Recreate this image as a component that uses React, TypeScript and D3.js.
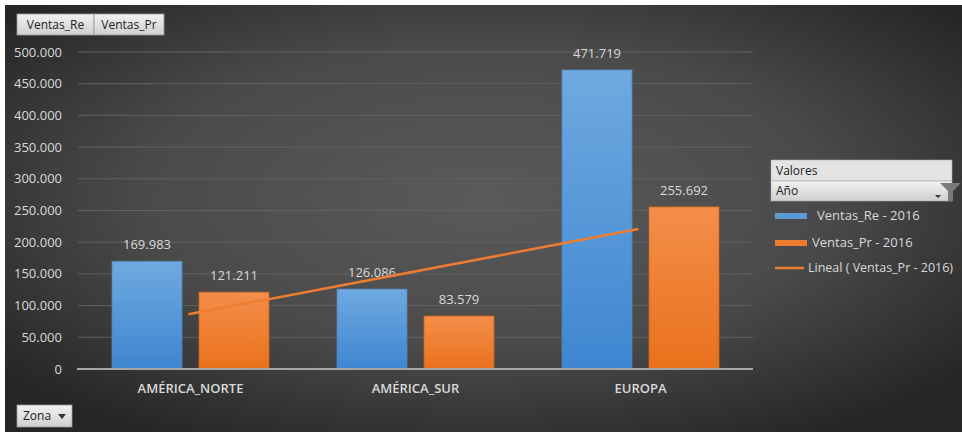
import React from "react";
import * as d3 from "d3";

const categories = ["AMÉRICA_NORTE", "AMÉRICA_SUR", "EUROPA"];
const ventasRe = [169983, 126086, 471719];
const ventasPr = [121211, 83579, 255692];
const yTicks = [0, 50000, 100000, 150000, 200000, 250000, 300000, 350000, 400000, 450000, 500000];
const legendLabels = ["Ventas_Re - 2016", "Ventas_Pr - 2016", "Lineal ( Ventas_Pr - 2016)"];

const W = 962, H = 432;
const FONT = "'Open Sans', 'Noto Sans', sans-serif";
const TXT = "#d9d9d9";

const fmt = (v: number) => {
  const s = d3.format(",")(v);
  return s.replace(/,/g, ".");
};

export default function App() {
  const x = d3.scaleBand().domain(categories).range([78, 753]).paddingInner(0).paddingOuter(0);
  const y = d3.scaleLinear().domain([0, 500000]).range([369, 52]);
  const bw = x.bandwidth();
  const barW = 70;
  const gap = 17;
  const sub = d3.scaleBand().domain(["re", "pr"]).range([0, barW * 2 + gap]);

  // linear trend line (least squares on x = 1..n)
  const n = ventasPr.length;
  const xs = d3.range(1, n + 1);
  const mx = d3.mean(xs)!;
  const my = d3.mean(ventasPr)!;
  const slope = d3.sum(xs.map((xi, i) => (xi - mx) * (ventasPr[i] - my))) / d3.sum(xs.map((xi) => (xi - mx) ** 2));
  const icpt = my - slope * mx;
  const trendPts: [number, number][] = xs.map((xi, i) => [x(categories[i])! + bw / 2 - 2, y(icpt + slope * xi)]);
  const line = d3.line();

  const off = (bw - (barW * 2 + gap)) / 2;

  return (
    <div style={{ position: "absolute", left: 0, top: 0 }}>
      <svg width={W} height={H} style={{ display: "block", fontFamily: FONT }}>
        <defs>
          <radialGradient id="bg" cx="50%" cy="45%" r="65%">
            <stop offset="0%" stopColor="#5a5a5a" />
            <stop offset="55%" stopColor="#4a4a4a" />
            <stop offset="100%" stopColor="#262626" />
          </radialGradient>
          <linearGradient id="gBlue" x1="0" y1="0" x2="0" y2="1">
            <stop offset="0%" stopColor="#6fa9e0" />
            <stop offset="100%" stopColor="#3f86d1" />
          </linearGradient>
          <linearGradient id="gOrange" x1="0" y1="0" x2="0" y2="1">
            <stop offset="0%" stopColor="#f48e4a" />
            <stop offset="100%" stopColor="#e9711c" />
          </linearGradient>
          <linearGradient id="gBtn" x1="0" y1="0" x2="0" y2="1">
            <stop offset="0%" stopColor="#f2f2f2" />
            <stop offset="100%" stopColor="#cfcfcf" />
          </linearGradient>
        </defs>
        <rect x={0} y={0} width={W} height={H} fill="#ffffff" />
        <rect x={5} y={5} width={W - 5} height={H - 5} fill="url(#bg)" />

        {/* gridlines */}
        {yTicks.slice(1).map((t) => (
          <line key={t} x1={78} x2={753} y1={y(t)} y2={y(t)} stroke="#626262" strokeWidth={1} />
        ))}
        {/* y tick labels */}
        {yTicks.map((t) => (
          <text key={t} x={62} y={y(t)} dy="0.35em" textAnchor="end" fontSize={13} fill={TXT}>
            {fmt(t)}
          </text>
        ))}

        {/* bars */}
        {categories.map((c, i) => {
          const x0 = x(c)! + off;
          const bx1 = x0 + sub("re")!;
          const bx2 = x0 + sub("pr")! + (sub.bandwidth() - barW);
          return (
            <g key={c}>
              <rect x={bx1} y={y(ventasRe[i])} width={barW} height={y(0) - y(ventasRe[i])} fill="url(#gBlue)" stroke="#4f84b8" strokeWidth={0.8} />
              <rect x={bx2} y={y(ventasPr[i])} width={barW} height={y(0) - y(ventasPr[i])} fill="url(#gOrange)" stroke="#c8651f" strokeWidth={0.8} />
              <text x={bx1 + barW / 2} y={y(ventasRe[i]) - 12} textAnchor="middle" fontSize={13} fill={TXT}>
                {fmt(ventasRe[i])}
              </text>
              <text x={bx2 + barW / 2} y={y(ventasPr[i]) - 12} textAnchor="middle" fontSize={13} fill={TXT}>
                {fmt(ventasPr[i])}
              </text>
              <text x={x(c)! + bw / 2} y={393} textAnchor="middle" fontSize={13} fontWeight={600} fill={TXT}>
                {c}
              </text>
            </g>
          );
        })}

        {/* axis line */}
        <line x1={77} x2={753} y1={y(0)} y2={y(0)} stroke="#a6a6a6" strokeWidth={2} />

        {/* trend line */}
        <path d={line([trendPts[0], trendPts[n - 1]])!} stroke="#ee7d31" strokeWidth={2.5} fill="none" />

        {/* top field buttons */}
        <rect x={17} y={14} width={77} height={21} fill="url(#gBtn)" stroke="#9a9a9a" strokeWidth={0.8} />
        <text x={55.5} y={28.5} textAnchor="middle" fontSize={12} fill="#222">Ventas_Re</text>
        <rect x={94} y={14} width={70} height={21} fill="url(#gBtn)" stroke="#9a9a9a" strokeWidth={0.8} />
        <text x={129} y={28.5} textAnchor="middle" fontSize={12} fill="#222">Ventas_Pr</text>

        {/* Zona button */}
        <rect x={17} y={405} width={55} height={22} fill="url(#gBtn)" stroke="#9a9a9a" strokeWidth={0.8} />
        <text x={23} y={420} fontSize={12} fill="#222">Zona</text>
        <path d="M58,414 L66,414 L62,419 Z" fill="#333" />

        {/* legend */}
        <rect x={771} y={160} width={181} height={21} fill="#e4e4e4" stroke="#aaa" strokeWidth={0.6} />
        <text x={776} y={175} fontSize={12} fill="#222">Valores</text>
        <rect x={771} y={181} width={181} height={20} fill="url(#gBtn)" stroke="#aaa" strokeWidth={0.6} />
        <text x={776} y={195} fontSize={12} fill="#222">Año</text>
        <path d="M935,195 L941,195 L938,198 Z" fill="#333" />
        <path d="M940,183 L961,183 L953,191 L953,201 L948,201 L948,191 Z" fill="#7a7a7a" />

        <rect x={775} y={213} width={32} height={6} fill="#5b9bd5" />
        <text x={817} y={220} fontSize={13} fill={TXT}>{legendLabels[0]}</text>
        <rect x={775} y={240} width={32} height={6} fill="#ed7d31" />
        <text x={812} y={247} fontSize={13} fill={TXT}>{legendLabels[1]}</text>
        <line x1={775} x2={804} y1={268} y2={268} stroke="#ed7d31" strokeWidth={2.5} />
        <text x={808} y={272} fontSize={12.5} fill={TXT}>{legendLabels[2]}</text>
      </svg>
    </div>
  );
}
